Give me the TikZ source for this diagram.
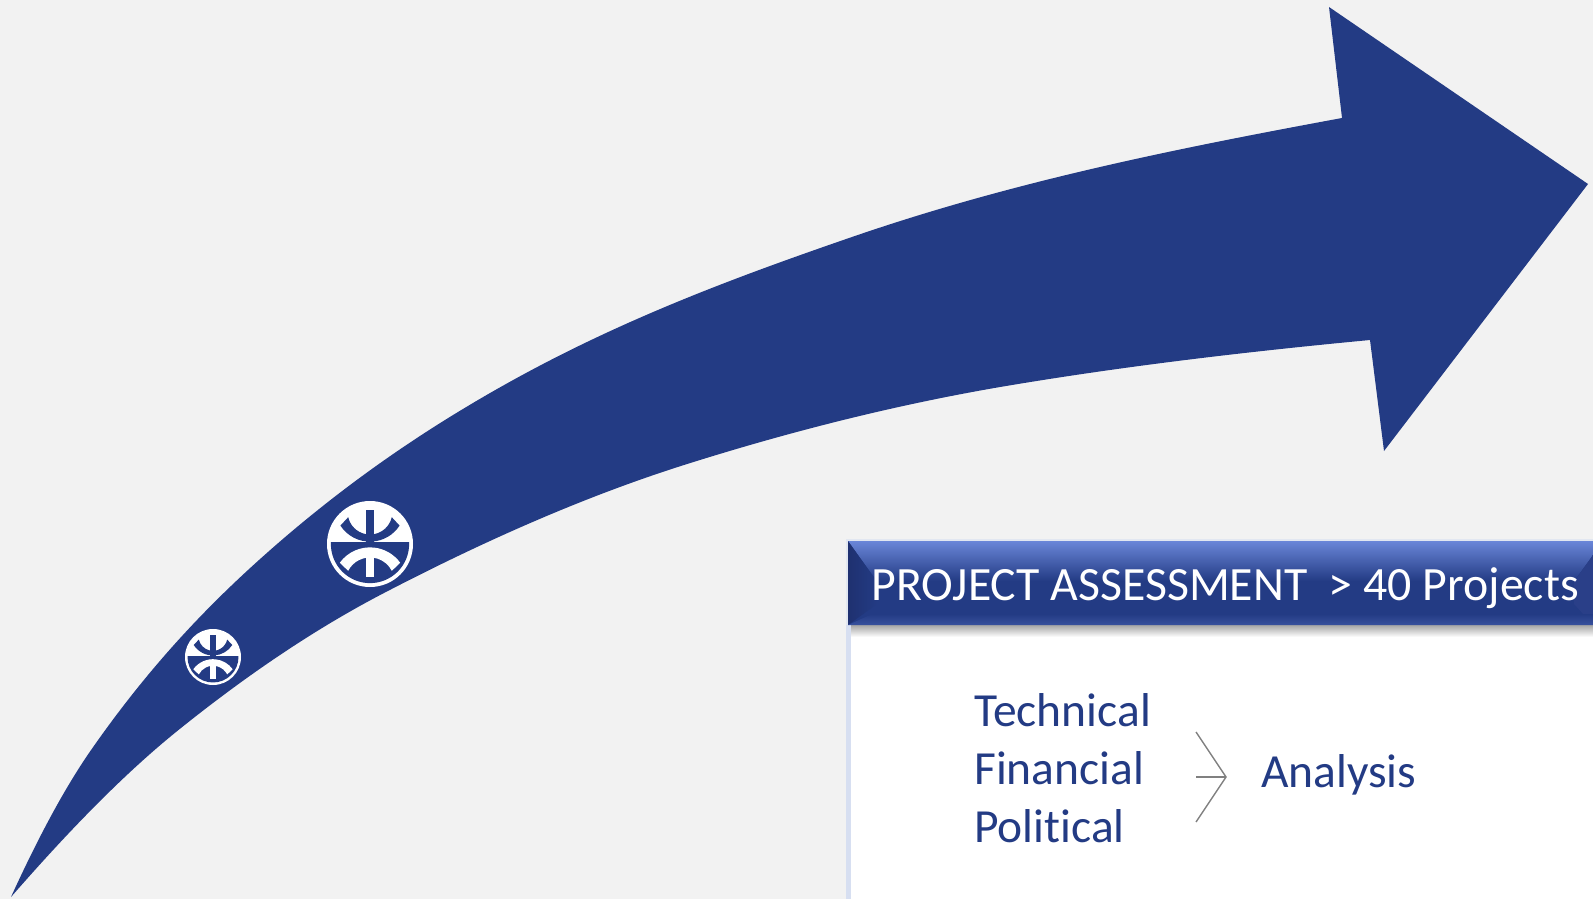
\documentclass[tikz,border=0pt]{standalone}
\usepackage{fontspec}
\setmainfont[Ligatures=NoCommon]{Carlito}
\definecolor{navy}{HTML}{233B84}
\definecolor{bgc}{HTML}{F2F2F2}
\definecolor{hilite}{HTML}{6A86D8}
\definecolor{darkb}{HTML}{1F3170}
\definecolor{sideb}{HTML}{2A3F88}
\definecolor{stripe}{HTML}{D7DFF1}
\tikzset{
  lbl/.style={anchor=base west,inner sep=0pt,text=navy,font=\fontsize{47.5}{47.5}\selectfont},
  hdr/.style={anchor=base west,inner sep=0pt,text=white,font=\fontsize{47.8}{47.8}\selectfont},
  brk/.style={draw=gray,line width=1.4pt},
}
% logo: #1 centre, #2 radius in pt
\newcommand{\logomark}[2]{%
\begin{scope}[shift={#1},x=#2pt,y=#2pt]
  \fill[white] (0,0) circle[radius=#2pt];
  \begin{scope}
    \clip (0,0) circle[radius=.91*#2pt];
    \fill[navy] (-1,-1) rectangle (1,.05);
    % lower white arch and stem
    \fill[white] ([shift={(0,-.945)}]144:.867) arc[start angle=144,end angle=36,radius=.867*#2pt]
       -- ([shift={(0,-.883)}]27:.57) arc[start angle=27,end angle=153,radius=.57*#2pt] -- cycle;
    \fill[white] (-.094,-.25) rectangle (.094,-.77);
    % upper navy arc and stem
    \fill[navy] ([shift={(0,.875)}]213:.82) arc[start angle=213,end angle=327,radius=.82*#2pt]
       -- ([shift={(0,.74)}]347:.52) arc[start angle=347,end angle=193,radius=.52*#2pt] -- cycle;
    \fill[navy] (-.094,.8) rectangle (.094,.05);
  \end{scope}
\end{scope}}
\begin{document}
\begin{tikzpicture}[x=1pt,y=-1pt]
\useasboundingbox (0,0) rectangle (1593,899);
\fill[bgc] (0,0) rectangle (1593,899);
\fill[navy] (11,897)
  .. controls (37,840) and (63,791) .. (89,753)
  .. controls (145.7,671) and (202.3,611) .. (259,560)
  .. controls (344.3,483.2) and (429.7,425.9) .. (515,379)
  .. controls (627.3,317.2) and (739.7,275.7) .. (852,237)
  .. controls (1015.3,180.7) and (1178.7,148.2) .. (1342,118)
  -- (1329,7) -- (1588,184) -- (1384,451) -- (1370,340)
  .. controls (1250.7,351.3) and (1131.3,365.2) .. (1012,385)
  .. controls (902.7,403.1) and (793.3,430.4) .. (684,465)
  .. controls (584,496.7) and (484,541) .. (384,593)
  .. controls (314.7,629) and (245.3,676) .. (176,732)
  .. controls (121,776.6) and (66,834) .. (11,897) -- cycle;
\logomark{(370,544)}{43}
\logomark{(213,657)}{28}
% panel
\fill[white] (851,625) rectangle (1593,899);
\fill[stripe] (846,625) rectangle (851,899);
\fill[stripe!60!bgc] (846,539) rectangle (1593,541);
\fill[stripe!60!bgc] (846,539) rectangle (848,625);
\shade[top color=black!35,bottom color=white] (851,625) rectangle (1593,637);
% header
\fill[navy] (848,541) rectangle (1593,625);
\shade[top color=hilite,bottom color=navy] (848,541) -- (1593,541) -- (1593,555) -- (1574,581) -- (877,581) -- cycle;
\shade[left color=darkb,right color=navy] (848,541) -- (877,582) -- (877,604) -- (848,625) -- cycle;
\fill[sideb] (1593,555) -- (1574,582) -- (1574,604) -- (1593,625) -- cycle;
\shade[top color=navy,bottom color=navy!70!hilite] (848,625) -- (872,614) -- (1593,614) -- (1593,625) -- cycle;
\node[hdr] (title) at (871.5,600) {PROJECT ASSESSMENT\ \ > 40 Projects};
\node[lbl] (tech) at (974,726) {Technical};
\node[lbl] (fin) at (974,784) {Financial};
\node[lbl] (pol) at (974,842) {Political};
\node[lbl] (ana) at (1261,787) {Analysis};
\coordinate (k1) at (1196,732);
\coordinate (k2) at (1226,777);
\coordinate (k3) at (1196,822);
\coordinate (k4) at (1196,777);
\draw[brk] (k1) -- (k2) -- (k3);
\draw[brk] (k4) -- (k2);
\end{tikzpicture}
\end{document}
